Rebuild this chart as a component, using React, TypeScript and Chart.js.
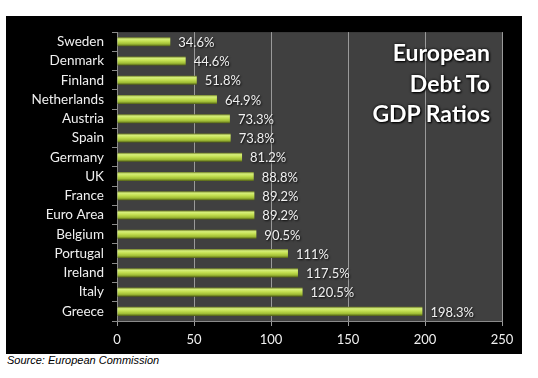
import React, { useEffect, useRef } from "react";
import { Chart, registerables } from "chart.js";

Chart.register(...registerables);

const categories = ["Sweden", "Denmark", "Finland", "Netherlands", "Austria", "Spain", "Germany", "UK", "France", "Euro Area", "Belgium", "Portugal", "Ireland", "Italy", "Greece"];
const debtRatios = [34.6, 44.6, 51.8, 64.9, 73.3, 73.8, 81.2, 88.8, 89.2, 89.2, 90.5, 111, 117.5, 120.5, 198.3];
const valueLabels = ["34.6%", "44.6%", "51.8%", "64.9%", "73.3%", "73.8%", "81.2%", "88.8%", "89.2%", "89.2%", "90.5%", "111%", "117.5%", "120.5%", "198.3%"];
const xTicks = [0, 50, 100, 150, 200, 250];
const titleLines = ["European", "Debt To", "GDP Ratios"];
const sourceText = "Source: European Commission";

const FONT = "Lato, 'Open Sans', sans-serif";

export default function App() {
  const canvasRef = useRef<HTMLCanvasElement | null>(null);

  useEffect(() => {
    document.body.style.margin = "0";
    const canvas = canvasRef.current;
    if (!canvas) return;

    const plotBg = {
      id: "plotBg",
      beforeDraw(chart: any) {
        const { ctx, chartArea } = chart;
        ctx.save();
        ctx.fillStyle = "#404040";
        ctx.fillRect(chartArea.left, chartArea.top, chartArea.right - chartArea.left, chartArea.bottom - chartArea.top);
        ctx.restore();
      },
    };

    const valueLabelPlugin = {
      id: "valueLabels",
      afterDatasetsDraw(chart: any) {
        const { ctx } = chart;
        const meta = chart.getDatasetMeta(0);
        ctx.save();
        ctx.font = `13px ${FONT}`;
        ctx.fillStyle = "#f0f0f0";
        ctx.textAlign = "left";
        ctx.textBaseline = "middle";
        ctx.shadowColor = "rgba(0,0,0,0.9)";
        ctx.shadowBlur = 2;
        ctx.shadowOffsetX = 1;
        ctx.shadowOffsetY = 1;
        meta.data.forEach((el: any, i: number) => {
          ctx.fillText(valueLabels[i], el.x + 8, el.y + 1);
        });
        ctx.restore();
      },
    };

    const barFill = (context: any) => {
      const chart = context.chart;
      const yScale = chart.scales?.y;
      if (!chart.chartArea || !yScale) return "#b8d84a";
      const yc = yScale.getPixelForValue(context.dataIndex);
      const half = 4.5;
      const g = chart.ctx.createLinearGradient(0, yc - half, 0, yc + half);
      g.addColorStop(0, "#6f7d2a");
      g.addColorStop(0.2, "#d6ef7a");
      g.addColorStop(0.45, "#c4e052");
      g.addColorStop(0.75, "#9fbc34");
      g.addColorStop(1, "#4f5c16");
      return g;
    };

    const chart = new Chart(canvas, {
      type: "bar",
      data: {
        labels: categories,
        datasets: [
          {
            data: debtRatios,
            backgroundColor: barFill,
            borderWidth: 0,
            categoryPercentage: 1,
            barPercentage: 0.47,
          },
        ],
      },
      options: {
        indexAxis: "y",
        animation: false,
        responsive: true,
        maintainAspectRatio: false,
        layout: { padding: { top: 16, right: 20, left: 0, bottom: 0 } },
        plugins: {
          legend: { display: false },
          title: { display: false },
          tooltip: { enabled: false },
        },
        scales: {
          x: {
            min: 0,
            max: 250,
            afterBuildTicks: (scale: any) => {
              scale.ticks = xTicks.map((v) => ({ value: v }));
            },
            afterFit: (scale: any) => {
              scale.height = 33;
            },
            grid: {
              color: "#9a9a9a",
              lineWidth: 1,
              drawTicks: true,
              tickLength: 5,
            },
            border: { display: true, color: "#8a8a8a" },
            ticks: {
              color: "#f0f0f0",
              font: { family: FONT, size: 13 },
              padding: 6,
            },
          },
          y: {
            afterFit: (scale: any) => {
              scale.width = 111;
            },
            grid: {
              drawOnChartArea: false,
              drawTicks: true,
              tickLength: 5,
              color: "#8a8a8a",
              offset: true,
            },
            border: { display: true, color: "#8a8a8a" },
            ticks: {
              color: "#f0f0f0",
              font: { family: FONT, size: 13.5 },
              padding: 8,
              autoSkip: false,
            },
          },
        },
      },
      plugins: [plotBg, valueLabelPlugin],
    });

    return () => chart.destroy();
  }, []);

  return (
    <div style={{ position: "relative", width: 538, height: 378, background: "#ffffff", overflow: "hidden" }}>
      <div style={{ position: "absolute", left: 6, top: 16, width: 516, height: 338, background: "#000000" }}>
        <canvas ref={canvasRef} />
      </div>
      <div
        style={{
          position: "absolute",
          right: 48,
          top: 37,
          textAlign: "right",
          color: "#ffffff",
          fontFamily: FONT,
          fontWeight: 700,
          fontSize: 23,
          lineHeight: "30.5px",
          textShadow: "1px 1px 2px #000, 0 0 3px #000",
          pointerEvents: "none",
        }}
      >
        {titleLines.map((t) => (
          <div key={t}>{t}</div>
        ))}
      </div>
      <div
        style={{
          position: "absolute",
          left: 7,
          top: 354,
          fontFamily: "'Liberation Sans', Arial, sans-serif",
          fontStyle: "italic",
          fontSize: 11,
          color: "#000000",
        }}
      >
        {sourceText}
      </div>
    </div>
  );
}
